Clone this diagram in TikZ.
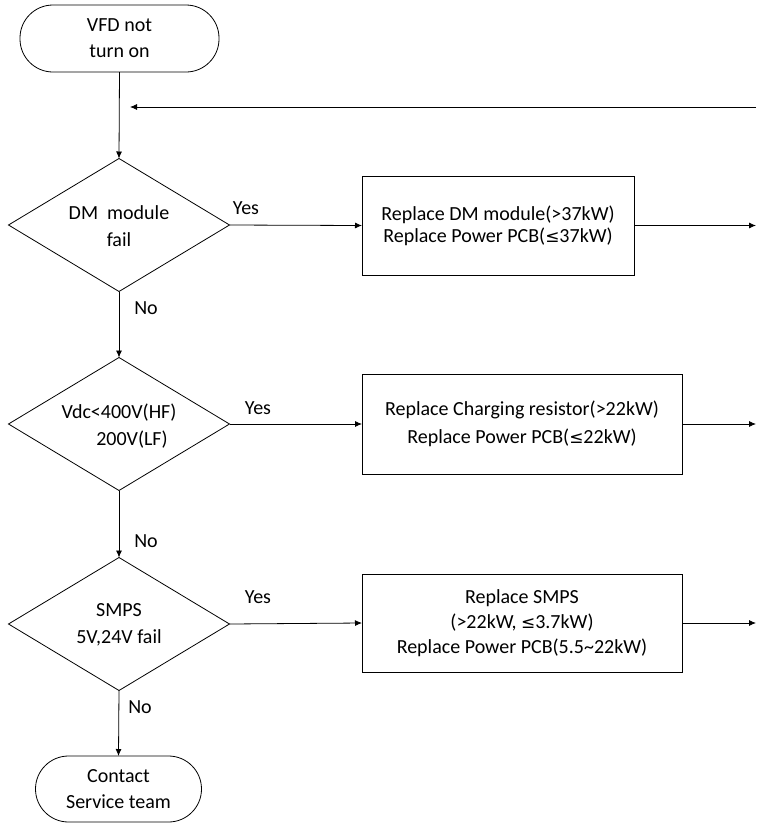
\documentclass[tikz,border=0pt]{standalone}
\usepackage{fontspec}
\setmainfont{Carlito}
\newfontfamily\symfont{DejaVu Sans}
\usetikzlibrary{shapes.geometric,arrows.meta}
\newcommand{\myle}{{\symfont\fontsize{17}{20}\selectfont ≤}}
\begin{document}
\begin{tikzpicture}[x=1pt,y=-1pt,
  every node/.style={font=\fontsize{20}{26}\selectfont, inner sep=0pt, outer sep=0pt},
  line/.style={draw=black, line width=0.8pt},
  arr/.style={line, -{Latex[length=7pt,width=6pt]}},
  term/.style={line, rectangle, rounded corners=33pt, align=center},
  dec/.style={line, diamond, minimum width=221pt, minimum height=133pt},
  dectext/.style={align=center, font=\fontsize{20}{27}\selectfont},
  act/.style={line, rectangle, align=center},
  lbl/.style={}]
\useasboundingbox (0,0) rectangle (756,823);
\node[term, minimum width=199pt, minimum height=67pt] (start) at (119.5,38.5) {VFD not\\turn on};
\node[dec] (d1) at (119,225) {};
\node[dectext] (t1) at (119,226) {DM\ \ module\\fail};
\node[dec] (d2) at (119,424) {};
\node[dectext] (t2) at (119,426) {Vdc<400V(HF)\\\hspace*{26pt}200V(LF)};
\node[dec] (d3) at (119,624) {};
\node[dectext] (t3) at (119,625) {SMPS\\5V,24V fail};
\node[term, minimum width=166pt, minimum height=66pt] (end) at (118.5,789) {Contact\\Service team};
\node[act, minimum width=272pt, minimum height=99pt, font=\fontsize{20}{22}\selectfont] (b1) at (498,225.5) {Replace DM module(>37kW)\\Replace Power PCB(\myle37kW)};
\node[act, minimum width=320pt, minimum height=100pt, font=\fontsize{20}{28}\selectfont] (b2) at (522,424) {Replace Charging resistor(>22kW)\\Replace Power PCB(\myle22kW)};
\node[act, minimum width=320pt, minimum height=98pt, font=\fontsize{20}{25}\selectfont] (b3) at (522,623) {Replace SMPS\\(>22kW, \myle3.7kW)\\Replace Power PCB(5.5\textasciitilde22kW)};
\node[lbl] (y1) at (246,208) {Yes};
\node[lbl] (y2) at (258,408) {Yes};
\node[lbl] (y3) at (258,597) {Yes};
\node[lbl] (n1) at (146,308) {No};
\node[lbl] (n2) at (146,541) {No};
\node[lbl] (n3) at (140,707) {No};
\coordinate (loopR) at (756,107);
\coordinate (loopL) at (130,107);
\coordinate (o1) at (756,225.5);
\coordinate (o2) at (756,424);
\coordinate (o3) at (756,623);
\draw[arr] (start.south) -- (d1.north);
\draw[arr] (loopR) -- (loopL);
\draw[arr] (d1.east) -- (b1.west);
\draw[arr] (b1.east) -- (o1);
\draw[arr] (d1.south) -- (d2.north);
\draw[arr] (d2.east) -- (b2.west);
\draw[arr] (b2.east) -- (o2);
\draw[arr] (d2.south) -- (d3.north);
\draw[arr] (d3.east) -- (b3.west);
\draw[arr] (b3.east) -- (o3);
\draw[arr] (d3.south) -- (end.north);
\end{tikzpicture}
\end{document}
